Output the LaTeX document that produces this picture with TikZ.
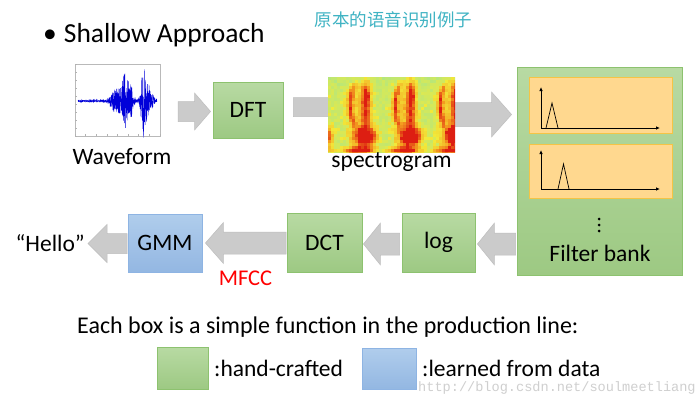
\documentclass[tikz,border=0pt]{standalone}
\usepackage{fontspec}
\setmainfont{Carlito}
\newfontfamily\cjk{Noto Sans CJK SC}
\newfontfamily\wmfont{Liberation Mono}
\usetikzlibrary{calc,arrows.meta}
\definecolor{grntop}{HTML}{B8DAA3}
\definecolor{grnbot}{HTML}{9DC983}
\definecolor{grnedge}{HTML}{8DC26F}
\definecolor{blutop}{HTML}{B0CDEC}
\definecolor{blubot}{HTML}{93B7E2}
\definecolor{bluedge}{HTML}{8EB4E3}
\definecolor{orfill}{HTML}{FFD88F}
\definecolor{oredge}{HTML}{F5C445}
\definecolor{arrfill}{HTML}{CBCBCB}
\definecolor{arredge}{HTML}{BEBEBE}
\definecolor{tealtxt}{HTML}{3FB3C3}
\definecolor{wmgray}{HTML}{CFCFCF}
\definecolor{spbg}{HTML}{B3E67E}
\definecolor{spyel}{HTML}{F2EA3A}
\definecolor{sporg}{HTML}{F4A020}
\definecolor{spred}{HTML}{DD1E12}
\newcommand\fs[1]{\fontsize{#1}{#1}\selectfont}
\newcommand\fatarrow[5]{%
  \coordinate (tmpH) at ($(#2)!#5!(#1)$);
  \filldraw[fatarr] ($(#1)!#3!90:(#2)$) -- ($(tmpH)!#3!-90:(#1)$)
    -- ($(tmpH)!#4!-90:(#1)$) -- (#2) -- ($(tmpH)!#4!90:(#1)$)
    -- ($(tmpH)!#3!90:(#1)$) -- ($(#1)!#3!-90:(#2)$) -- cycle;}
\pgfmathdeclarefunction{envw}{1}{\pgfmathparse{0.6+12*exp(-((#1-116)/6)^2)+26*exp(-((#1-125)/4)^2)+14*exp(-((#1-131)/3)^2)+34*exp(-((#1-143)/2.5)^2)+20*exp(-((#1-147)/3)^2)+6*exp(-((#1-152)/3)^2)}}
% one syllable pattern of the spectrogram, centred at x = 0
\pgfmathdeclarefunction{spat}{2}{\pgfmathparse{%
  0.45*exp(-((#1+10-4*((#2-106)/20)^2)/2.8)^2)*exp(-((#2-106)/22)^4)
 +0.48*exp(-((#1-6)/4.5)^2)*exp(-((#2-104)/24)^4)
 +0.15*exp(-((#1-6)/3)^2)*exp(-((#2-97)/7)^2)
 +0.95*exp(-((#1-6)/10)^2)*exp(-((#2-137)/9)^2)
 +0.70*exp(-((#1+1)/15)^2)*exp(-((#2-151)/4)^2)
 +0.30*exp(-((#1+1)/16)^2)*exp(-((#2-115)/36)^4)}}
\pgfmathdeclarefunction{sint}{2}{\pgfmathparse{spat(#1-360,#2)+spat(#1-405,#2)+spat(#1-450,#2)+spat(#1-315,#2)}}
\tikzset{
  fatarr/.style={fill=arrfill, draw=arredge, line width=0.5pt},
  greenbox/.style={draw=grnedge, line width=0.9pt, top color=grntop, bottom color=grnbot,
    inner sep=0pt, font=\fs{23.5}},
  bluebox/.style={draw=bluedge, line width=0.9pt, top color=blutop, bottom color=blubot,
    inner sep=0pt, font=\fs{23.5}},
  orbox/.style={draw=oredge, line width=0.9pt, fill=orfill, inner sep=0pt},
  lbl/.style={inner sep=0pt, font=\fs{23.5}},
  axis/.style={line width=0.8pt, -{Latex[length=4pt,width=3.5pt]}},
}
\begin{document}
\begin{tikzpicture}[x=1pt,y=-1pt]
\useasboundingbox (0,0) rectangle (700,404);
\fill[white] (0,0) rectangle (700,404);
% titles
\node[inner sep=0pt, anchor=west, font=\fs{27.5}] (title) at (43,35) {\textbullet\hspace{7pt}Shallow Approach};
\node[inner sep=0pt, font=\cjk\fs{17.5}, text=tealtxt] (cn) at (393.5,20) {原本的语音识别例子};
% waveform
\node[draw=gray!55, line width=0.4pt, minimum width=85pt, minimum height=72pt, inner sep=0pt] (wave) at (117.5,100) {};
\foreach \t in {0,...,8} {\draw[gray!60, line width=0.3pt] (75+\t*10.6,136) -- ++(0,-2);}
\foreach \t in {0,...,9} {\draw[gray!60, line width=0.3pt] (75,64+\t*8) -- ++(2,0);}
\pgfmathsetseed{7}
\draw[blue!85!black, line width=0.35pt] plot[domain=78:157, samples=700] (\x, {101+envw(\x)*rand});
\node[lbl] (wavelbl) at (122,157) {Waveform};
% DFT
\node[greenbox, minimum width=70pt, minimum height=56pt] (dft) at (248,110) {DFT};
% spectrogram placeholder
\path (391.5,114.5) node[minimum width=127pt, minimum height=75pt, inner sep=0pt] (spec) {};
% filter bank
\node[draw=grnedge, line width=0.9pt, top color=grntop, bottom color=grnbot, minimum width=165pt, minimum height=208pt, inner sep=0pt] (fb) at (599.5,171) {};
% bottom row boxes
\node[greenbox, minimum width=73pt, minimum height=59pt] (log) at (438.5,242.5) {log};
\node[greenbox, minimum width=75pt, minimum height=59pt] (dct) at (324.5,242.5) {DCT};
\node[bluebox, minimum width=74pt, minimum height=58pt] (gmm) at (165,243) {GMM};
\node[lbl, anchor=east] (hello) at (85,243) {“Hello”};
\node[inner sep=0pt, font=\fs{22.5}, text=red] (mfcc) at (245.5,278) {MFCC};
% arrows
\coordinate (a1s) at ($(wave.east)+(18,11.5)$);
\coordinate (a1e) at ($(dft.west)+(-2,1.5)$);
\fatarrow{a1s}{a1e}{10pt}{18.5pt}{16pt}
\coordinate (a2s) at ($(dft.east)+(10,-3)$);
\coordinate (a2e) at ($(spec.west)+(25,-7.5)$);
\fatarrow{a2s}{a2e}{9.5pt}{19pt}{16pt}
\coordinate (a3s) at ($(spec.east)+(-10,0)$);
\coordinate (a3e) at ($(fb.west|-spec.east)+(-5,0)$);
\fatarrow{a3s}{a3e}{12pt}{22.5pt}{20pt}
\coordinate (a4s) at ($(fb.west|-log.east)+(-1,1.5)$);
\coordinate (a4e) at ($(log.east)+(2,1.5)$);
\fatarrow{a4s}{a4e}{11pt}{21pt}{17pt}
\coordinate (a5s) at ($(log.west)+(-2,1.5)$);
\coordinate (a5e) at ($(dct.east)+(1,1.5)$);
\fatarrow{a5s}{a5e}{11pt}{21pt}{17pt}
\coordinate (a6s) at ($(dct.west)+(-0.5,0.5)$);
\coordinate (a6e) at ($(gmm.east)+(3,0)$);
\fatarrow{a6s}{a6e}{11pt}{20.5pt}{18pt}
\coordinate (a7s) at ($(gmm.west)+(-0.5,0.5)$);
\coordinate (a7e) at ($(hello.east)+(3,0.5)$);
\fatarrow{a7s}{a7e}{10pt}{19pt}{19pt}
% spectrogram image (cells coloured by an intensity map with noise)
\begin{scope}
\clip (spec.north west) rectangle (spec.south east);
\fill[spbg] (spec.north west) rectangle (spec.south east);
\pgfmathsetseed{3}
\foreach \i in {0,...,42} {
  \foreach \j in {0,...,25} {
    \pgfmathsetmacro\xx{328+\i*3+1.5}
    \pgfmathsetmacro\yy{77+\j*3+1.5}
    \pgfmathsetmacro\vv{sint(\xx,\yy)+0.08*rand}
    \pgfmathtruncatemacro\stage{\vv<0.16 ? 0 : (\vv<0.42 ? 1 : (\vv<0.68 ? 2 : 3))}
    \ifcase\stage
      \pgfmathtruncatemacro\pc{max(0,min(100,\vv*300+15))}
      \fill[spyel!\pc!spbg] (\xx-1.5,\yy-1.5) rectangle ++(3,3);
    \or
      \pgfmathtruncatemacro\pc{max(0,min(100,(\vv-0.16)*300))}
      \fill[sporg!\pc!spyel] (\xx-1.5,\yy-1.5) rectangle ++(3,3);
    \or
      \pgfmathtruncatemacro\pc{max(0,min(100,(\vv-0.42)*300))}
      \fill[spred!\pc!sporg] (\xx-1.5,\yy-1.5) rectangle ++(3,3);
    \or
      \fill[spred] (\xx-1.5,\yy-1.5) rectangle ++(3,3);
    \fi
  }
}
\end{scope}
\node[lbl, anchor=north] (speclbl) at ($(spec.south)+(0,0)$) {spectrogram};
% filter bank content
\node[orbox, minimum width=143pt, minimum height=56pt] (fb1) at (600.5,105) {};
\node[orbox, minimum width=143pt, minimum height=54pt] (fb2) at (600.5,171) {};
\draw[axis] (541,128) -- (541,87);
\draw[axis] (541,128) -- (660,128);
\draw[line width=0.7pt] (546,128) -- (552,103) -- (558,128);
\draw[axis] (541,189) -- (541,150);
\draw[axis] (541,189) -- (660,189);
\draw[line width=0.7pt] (558,189) -- (563.5,164) -- (569,189);
\foreach \yy in {219,225,231} \fill (599,\yy) circle (1.5);
\node[lbl] (fblbl) at (600,253) {Filter bank};
% caption & legend
\node[inner sep=0pt, anchor=west, font=\fs{24}] (caption) at (77,327) {Each box is a simple function in the production line:};
\node[greenbox, minimum width=51pt, minimum height=42pt] (leg1) at (182.5,368) {};
\node[inner sep=0pt, anchor=west, font=\fs{23.5}] (leg1lbl) at (214,368) {:hand-crafted};
\node[bluebox, minimum width=54pt, minimum height=41pt] (leg2) at (389,368.5) {};
\node[inner sep=0pt, anchor=west, font=\fs{23.5}] (leg2lbl) at (422,368) {:learned from data};
\node[inner sep=0pt, anchor=west, font=\wmfont\fs{13.6}, text=wmgray] (wm) at (418,388) {http://blog.csdn.net/soulmeetliang};
\end{tikzpicture}
\end{document}
